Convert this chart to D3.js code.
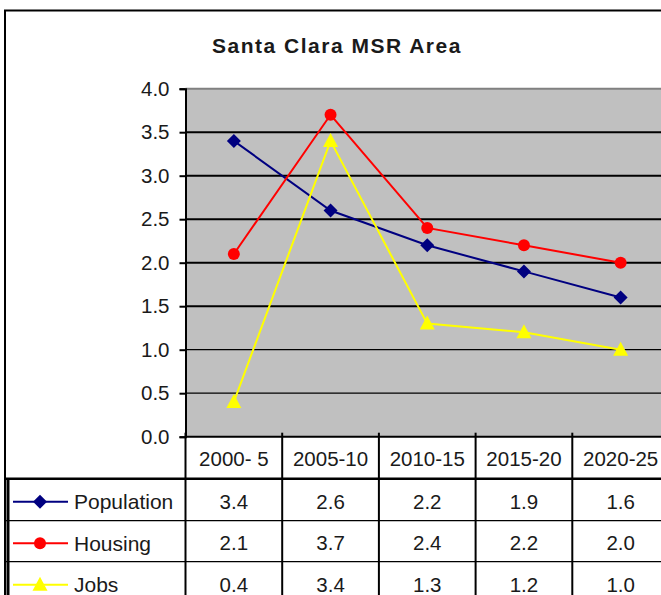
<!DOCTYPE html>
<html>
<head>
<meta charset="utf-8">
<script src="https://cdn.jsdelivr.net/npm/d3@7"></script>
<style>
  body { margin: 0; background: #fff; }
  text { font-family: "Liberation Sans", Arial, sans-serif; fill: #1a1a1a; }
</style>
</head>
<body>
<div id="chart"></div>
<script>
var categories = ["2000- 5", "2005-10", "2010-15", "2015-20", "2020-25"];
var population = [3.4, 2.6, 2.2, 1.9, 1.6];
var housing = [2.1, 3.7, 2.4, 2.2, 2.0];
var jobs = [0.4, 3.4, 1.3, 1.2, 1.0];
var yTicks = [0, 0.5, 1, 1.5, 2, 2.5, 3, 3.5, 4];

var series = [
  {name: "Population", values: population, color: "#000080", marker: "diamond"},
  {name: "Housing", values: housing, color: "#ff0000", marker: "circle"},
  {name: "Jobs", values: jobs, color: "#ffff00", marker: "triangle"}
];

var W = 661, H = 595;
var plotLeft = 185.5, plotRight = 669, plotTop = 88.7, plotBottom = 436.7;
var rowH = [42, 42, 41, 42]; // header + 3 series rows

var x = d3.scaleBand().domain(categories).range([plotLeft, plotRight]);
var y = d3.scaleLinear().domain([0, 4]).range([plotBottom, plotTop]);

var svg = d3.select("#chart").append("svg")
    .attr("width", W)
    .attr("height", H);

// outer chart border
svg.append("rect")
  .attr("x", 5).attr("y", 10.5)
  .attr("width", 700).attr("height", 700)
  .style("fill", "none")
  .style("stroke", "#000")
  .style("stroke-width", 2);

svg.append("text")
  .attr("x", 337).attr("y", 52.5)
  .attr("text-anchor", "middle")
  .style("font-size", "21px")
  .style("font-weight", "bold")
  .style("letter-spacing", "1.5px")
  .text("Santa Clara MSR Area");

// plot area
svg.append("rect")
  .attr("x", plotLeft).attr("y", plotTop)
  .attr("width", plotRight - plotLeft + 20).attr("height", plotBottom - plotTop)
  .style("fill", "#c0c0c0");

svg.append("line")
  .attr("x1", plotLeft).attr("x2", W)
  .attr("y1", plotTop).attr("y2", plotTop)
  .style("stroke", "#808080").style("stroke-width", 2);

svg.append("g").selectAll("line")
  .data(yTicks.filter(function (d) { return d > 0 && d < 4; }))
  .join("line")
  .attr("x1", plotLeft).attr("x2", W)
  .attr("y1", function (d) { return y(d); })
  .attr("y2", function (d) { return y(d); })
  .style("stroke", "#000")
  .style("stroke-width", function (d) { return d >= 1.5 ? 2 : 1.3; });

var yAxis = d3.axisLeft(y).tickValues(yTicks).tickSize(6).tickFormat(d3.format(".1f"));
var gy = svg.append("g")
  .attr("transform", "translate(" + plotLeft + ",0)")
  .call(yAxis);
gy.select(".domain").style("stroke", "#000").style("stroke-width", 2);
gy.selectAll(".tick line").style("stroke", "#000").style("stroke-width", 2);
gy.selectAll(".tick text")
  .attr("x", -16)
  .style("font-size", "20.5px")
  .style("font-family", "'Liberation Sans', Arial, sans-serif")
  .style("fill", "#1a1a1a");

// series lines + markers
var line = d3.line()
  .x(function (d, i) { return x(categories[i]) + x.bandwidth() / 2; })
  .y(function (d) { return y(d); });

function drawMarker(g, type, color) {
  if (type === "diamond") {
    g.append("path").attr("d", "M0,-7L7,0L0,7L-7,0Z").style("fill", color);
  } else if (type === "circle") {
    g.append("circle").attr("r", 6).style("fill", color);
  } else {
    g.append("path").attr("d", "M0,-8L7.5,6L-7.5,6Z").style("fill", color);
  }
}

series.forEach(function (s) {
  svg.append("path")
    .datum(s.values)
    .attr("d", line)
    .style("fill", "none")
    .style("stroke", s.color)
    .style("stroke-width", 2);

  s.values.forEach(function (v, i) {
    var g = svg.append("g")
      .attr("transform", "translate(" + (x(categories[i]) + x.bandwidth() / 2) + "," + y(v) + ")");
    drawMarker(g, s.marker, s.color);
  });
});

// data table
var rowTop = [plotBottom];
rowH.forEach(function (h, i) { rowTop.push(rowTop[i] + h); });

var table = svg.append("g");

table.append("line")
  .attr("x1", plotLeft).attr("x2", W)
  .attr("y1", plotBottom).attr("y2", plotBottom)
  .style("stroke", "#000").style("stroke-width", 2);

[1, 2, 3].forEach(function (r) {
  table.append("line")
    .attr("x1", 5).attr("x2", W)
    .attr("y1", rowTop[r]).attr("y2", rowTop[r])
    .style("stroke", "#000").style("stroke-width", r === 1 ? 2.5 : 1.3);
});

table.append("line")
  .attr("x1", 8).attr("x2", 8)
  .attr("y1", rowTop[1]).attr("y2", H)
  .style("stroke", "#000").style("stroke-width", 3);

table.selectAll(".col")
  .data(categories)
  .join("line")
  .attr("x1", function (d) { return x(d); })
  .attr("x2", function (d) { return x(d); })
  .attr("y1", plotBottom - 4).attr("y2", H)
  .style("stroke", "#000").style("stroke-width", 2);

table.selectAll(".hdr")
  .data(categories)
  .join("text")
  .attr("x", function (d) { return x(d) + x.bandwidth() / 2; })
  .attr("y", rowTop[0] + rowH[0] / 2 + 1)
  .attr("dy", "0.35em")
  .attr("text-anchor", "middle")
  .style("font-size", "20.5px")
  .text(function (d) { return d; });

series.forEach(function (s, r) {
  var cy = rowTop[r + 1] + rowH[r + 1] / 2 + 2;

  table.append("line")
    .attr("x1", 13).attr("x2", 68)
    .attr("y1", cy).attr("y2", cy)
    .style("stroke", s.color).style("stroke-width", 2);
  var g = table.append("g").attr("transform", "translate(40," + cy + ")");
  drawMarker(g, s.marker, s.color);

  table.append("text")
    .attr("x", 74).attr("y", cy)
    .attr("dy", "0.35em")
    .style("font-size", "21px")
    .text(s.name);

  table.selectAll(null)
    .data(s.values)
    .join("text")
    .attr("x", function (d, i) { return x(categories[i]) + x.bandwidth() / 2; })
    .attr("y", cy)
    .attr("dy", "0.35em")
    .attr("text-anchor", "middle")
    .style("font-size", "20.5px")
    .text(function (d) { return d3.format(".1f")(d); });
});
</script>
</body>
</html>
